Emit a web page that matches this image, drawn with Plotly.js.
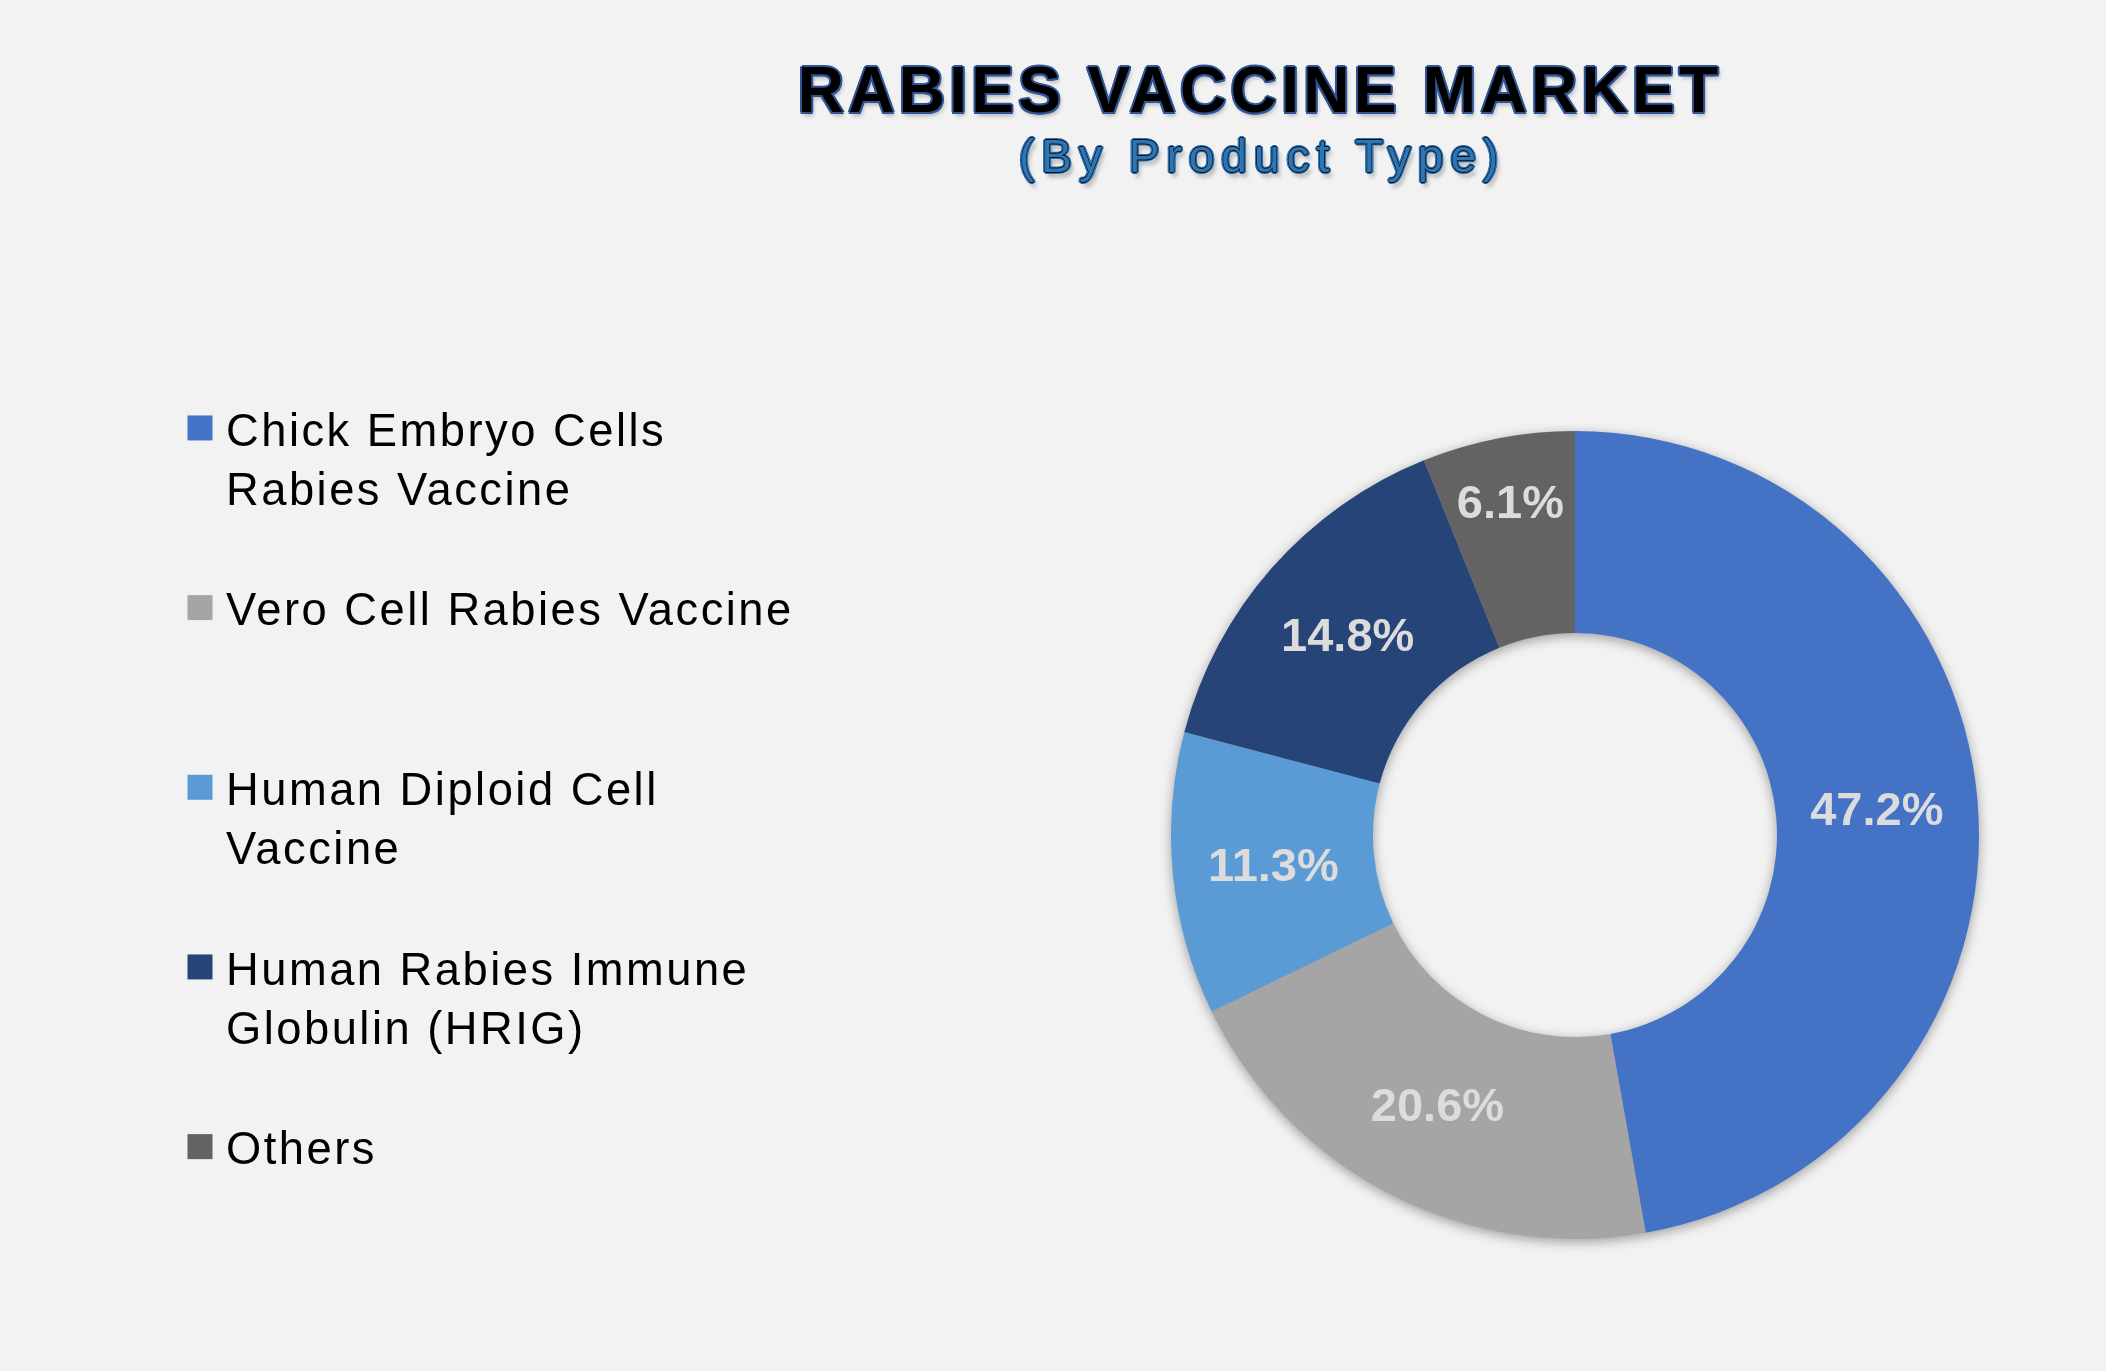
<!DOCTYPE html>
<html>
<head>
<meta charset="utf-8">
<script src="https://cdn.plot.ly/plotly-3.0.1.min.js"></script>
<style>
  html, body { margin: 0; padding: 0; background: #F2F2F2; }
  #chart { width: 2106px; height: 1371px; }
  .pielayer .trace { filter: drop-shadow(0px 3px 6px rgba(0,0,0,0.35)); }
</style>
</head>
<body>
<div id="chart"></div>
<script>
// ---- data ----
const categories = [
  'Chick Embryo Cells<br>Rabies Vaccine',
  'Vero Cell Rabies Vaccine',
  'Human Diploid Cell<br>Vaccine',
  'Human Rabies Immune<br>Globulin (HRIG)',
  'Others'
];
const shares = [47.2, 20.6, 11.3, 14.8, 6.1];
const sliceColors = ['#4472C4', '#A5A5A5', '#5B9BD5', '#264478', '#636363'];
const titleText = 'RABIES VACCINE MARKET';
const subtitleText = '(By Product Type)';

// larger legend swatches: widen each legend square with a stroke of its own colour
(function () {
  const css = sliceColors.map(function (c, i) {
    return '.legend .traces:nth-of-type(' + (i + 1) + ') .legendpie { stroke: ' + c +
      ' !important; stroke-width: 13px !important; stroke-linejoin: miter; }';
  }).join('\n');
  const st = document.createElement('style');
  st.textContent = css;
  document.head.appendChild(st);
})();

// legend entries: each padded to three lines so entries are evenly spaced
const legendLabels = categories.map(function (c) {
  const n = c.split('<br>').length;
  let s = '<span style="letter-spacing:2.5px">' + c + '</span>';
  for (let i = n; i < 3; i++) s += '<br>&nbsp;';
  return s;
});

const W = 2106, H = 1371;
const cx = 1575, cy = 835, R = 404;

const trace = {
  type: 'pie',
  labels: legendLabels,
  values: shares,
  sort: false,
  direction: 'clockwise',
  rotation: 0,
  hole: 0.5,
  marker: { colors: sliceColors, line: { width: 0 } },
  texttemplate: '%{percent:.1%}',
  textposition: 'inside',
  insidetextorientation: 'horizontal',
  insidetextfont: { family: 'Liberation Sans, Arial, sans-serif', size: 47, weight: 'bold', color: '#DCDCDC' },
  hoverinfo: 'label+percent',
  domain: {
    x: [(cx - R) / W, (cx + R) / W],
    y: [(H - cy - R) / H, (H - cy + R) / H]
  }
};

const outlineDark = [
  '2px 0 0 #2F5597', '-2px 0 0 #2F5597', '0 2px 0 #2F5597', '0 -2px 0 #2F5597',
  '1.5px 1.5px 0 #2F5597', '-1.5px 1.5px 0 #2F5597', '1.5px -1.5px 0 #2F5597', '-1.5px -1.5px 0 #2F5597',
  '2px 4px 4px rgba(0,0,0,0.25)'
].join(', ');

const outlineBlue = [
  '0.6px 0 0 #111', '-0.6px 0 0 #111', '0 0.6px 0 #111', '0 -0.6px 0 #111',
  '2px 0 0 #2E75B6', '-2px 0 0 #2E75B6', '0 2px 0 #2E75B6', '0 -2px 0 #2E75B6',
  '1.4px 1.4px 0 #2E75B6', '-1.4px 1.4px 0 #2E75B6', '1.4px -1.4px 0 #2E75B6', '-1.4px -1.4px 0 #2E75B6',
  '3px 5px 4px rgba(0,0,0,0.30)'
].join(', ');

const layout = {
  width: W,
  height: H,
  margin: { l: 0, r: 0, t: 0, b: 0, pad: 0 },
  paper_bgcolor: '#F2F2F2',
  plot_bgcolor: '#F2F2F2',
  font: { family: 'Liberation Sans, Arial, sans-serif', color: '#000000' },
  title: {
    text: '<span style="letter-spacing:4.3px">' + titleText + '</span>',
    font: { family: 'Liberation Sans, Arial, sans-serif', size: 64, weight: 'bold', color: '#000000', shadow: outlineDark },
    x: 1260 / W, xref: 'paper', xanchor: 'center',
    y: 1 - 90 / H, yref: 'container', yanchor: 'middle'
  },
  annotations: [{
    text: '<span style="letter-spacing:7px">' + subtitleText + '</span>',
    xref: 'paper', yref: 'paper',
    x: 1262 / W, y: 1 - 156 / H,
    xanchor: 'center', yanchor: 'middle',
    showarrow: false,
    font: { family: 'Liberation Sans, Arial, sans-serif', size: 46, color: '#2E75B6', shadow: outlineBlue }
  }],
  showlegend: true,
  legend: {
    x: 174 / W, xanchor: 'left',
    y: 1 - 392 / H, yanchor: 'top',
    orientation: 'v',
    valign: 'top',
    itemwidth: 42,
    bgcolor: 'rgba(0,0,0,0)',
    borderwidth: 0,
    font: { family: 'Liberation Sans, Arial, sans-serif', size: 45.3, color: '#000000' },
    itemclick: false, itemdoubleclick: false
  },
  uniformtext: { minsize: 47, mode: 'show' }
};

Plotly.newPlot('chart', [trace], layout, { displayModeBar: false, staticPlot: true });
</script>
</body>
</html>
